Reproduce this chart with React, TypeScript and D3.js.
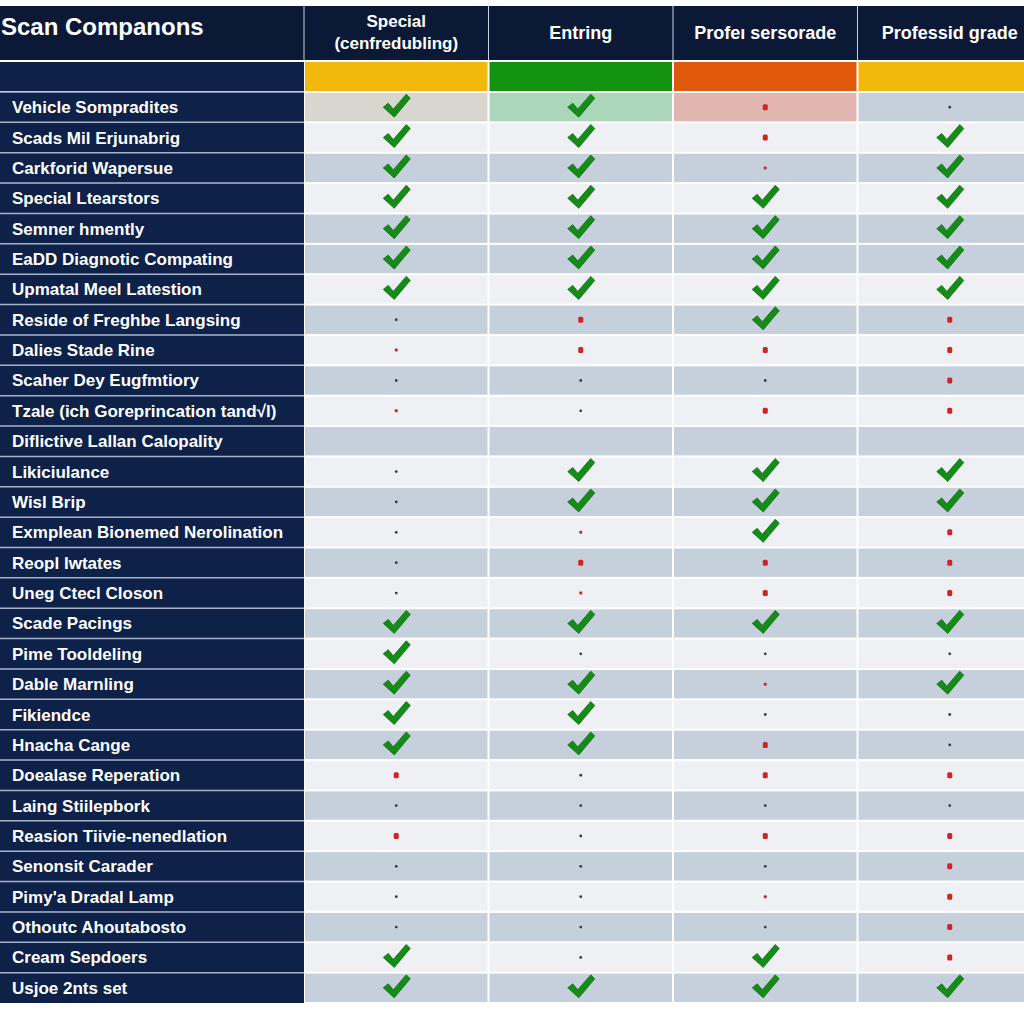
import * as d3 from "d3";

// table content
const title = "Scan Companons";
const columns = ["Special\n(cenfredubling)", "Entring", "Profeı sersorade", "Professid grade"];
const bandColors = ["#f1b90c", "#13930f", "#e0590b", "#f2b90d"];
const firstRowTints = ["#d7d7d0", "#aad6ba", "#e0b5b2", "#c6d0dc"];

const rows = [
  "Vehicle Sompradites",
  "Scads Mil Erjunabrig",
  "Carkforid Wapersue",
  "Special Ltearstors",
  "Semner hmently",
  "EaDD Diagnotic Compating",
  "Upmatal Meel Latestion",
  "Reside of Freghbe Langsing",
  "Dalies Stade Rine",
  "Scaher Dey Eugfmtiory",
  "Tzale (ich Goreprincation tand√l)",
  "Diflictive Lallan Calopality",
  "Likiciulance",
  "Wisl Brip",
  "Exmplean Bionemed Nerolination",
  "Reopl Iwtates",
  "Uneg Ctecl Closon",
  "Scade Pacings",
  "Pime Tooldeling",
  "Dable Marnling",
  "Fikiendce",
  "Hnacha Cange",
  "Doealase Reperation",
  "Laing Stiilepbork",
  "Reasion Tiivie-nenedlation",
  "Senonsit Carader",
  "Pimy'a Dradal Lamp",
  "Othoutc Ahoutabosto",
  "Cream Sepdoers",
  "Usjoe 2nts set",
];

// C = check, R = red dot, r = small red dot, D = small dark dot, N = empty
const marks = [
  "CCRD", "CCRC", "CCrC", "CCCC", "CCCC", "CCCC", "CCCC", "DRCR", "rRRR", "DDDR",
  "rDRR", "NNNN", "DCCC", "DCCC", "DrCR", "DRRR", "DrRR", "CCCC", "CDDD", "CCrC",
  "CCDD", "CCRD", "RDRR", "DDDD", "RDRR", "DDDR", "DDrR", "DDDR", "CDCR", "CCCC",
];

// rows with the darker stripe (0-based)
const darkRows = [0, 2, 4, 5, 7, 9, 11, 13, 15, 17, 19, 21, 23, 25, 27, 29];

const W = 1024;
const H = 1024;
const labelW = 304;

export default function App() {
  const x = d3.scaleBand<number>().domain(d3.range(columns.length)).range([labelW, 1042]);
  const y = d3.scaleBand<number>().domain(d3.range(rows.length)).range([92, 1003]);
  const bw = x.bandwidth();
  const bh = y.bandwidth();

  const check = (cx: number, cy: number) => {
    const p = d3.path();
    p.moveTo(cx - 13, cy);
    p.lineTo(cx - 8, cy - 4);
    p.lineTo(cx - 3, cy + 2);
    p.lineTo(cx + 10, cy - 13);
    p.lineTo(cx + 14, cy - 9);
    p.lineTo(cx - 2, cy + 10);
    p.closePath();
    return p.toString();
  };

  return (
    <svg
      width={W}
      height={H}
      style={{ position: "absolute", left: 0, top: 0, background: "#fff" }}
      fontFamily="'Liberation Sans', Arial, sans-serif"
    >
      {/* header */}
      <rect x={0} y={6} width={W} height={54} fill="#0b1937" />
      <text x={1} y={35} fill="#fff" fontSize={24} fontWeight="bold">
        {title}
      </text>
      {columns.map((c, i) => {
        const lines = c.split("\n");
        const cx = x(i)! + bw / 2;
        return (
          <g key={c}>
            <line x1={x(i)} x2={x(i)} y1={6} y2={60} stroke="#c9d2e0" strokeWidth={1} />
            {lines.map((l, j) => (
              <text
                key={j}
                x={cx}
                y={lines.length === 1 ? 39 : 27 + j * 22}
                textAnchor="middle"
                fill="#fff"
                fontSize={lines.length === 1 ? 18 : 17}
                fontWeight="bold"
              >
                {l}
              </text>
            ))}
          </g>
        );
      })}

      {/* colour band */}
      <rect x={0} y={62} width={labelW} height={29} fill="#0e2149" />
      {bandColors.map((c, i) => (
        <rect key={i} x={x(i)! + 1} y={62} width={bw - 2} height={29} fill={c} />
      ))}

      {/* rows */}
      {rows.map((r, ri) => {
        const top = y(ri)!;
        const dark = darkRows.includes(ri);
        const cy = top + bh / 2;
        return (
          <g key={r}>
            <rect x={0} y={top} width={labelW} height={bh} fill="#0e2149" />
            <line x1={0} x2={labelW} y1={top} y2={top} stroke="#a6b5cc" strokeWidth={1.5} />
            <text x={12} y={cy + 6} fill="#fff" fontSize={17} fontWeight="bold">
              {r}
            </text>
            {columns.map((_, ci) => {
              const fill = ri === 0 ? firstRowTints[ci] : dark ? "#c6d0dd" : "#eef0f4";
              const cx = x(ci)! + bw / 2;
              const m = marks[ri][ci];
              return (
                <g key={ci}>
                  <rect x={x(ci)! + 1} y={top + 1} width={bw - 2} height={bh - 2} fill={fill} />
                  {m === "C" && <path d={check(cx, cy)} fill="#158c17" stroke="#0d6e10" strokeWidth={0.8} />}
                  {m === "R" && <rect x={cx - 2.5} y={cy - 3} width={5} height={6} rx={1.5} fill="#d42222" />}
                  {m === "r" && <rect x={cx - 1.5} y={cy - 1.5} width={3} height={3} rx={1} fill="#c42a2a" />}
                  {m === "D" && <circle cx={cx} cy={cy} r={1.4} fill="#3a3a44" />}
                </g>
              );
            })}
          </g>
        );
      })}
    </svg>
  );
}
